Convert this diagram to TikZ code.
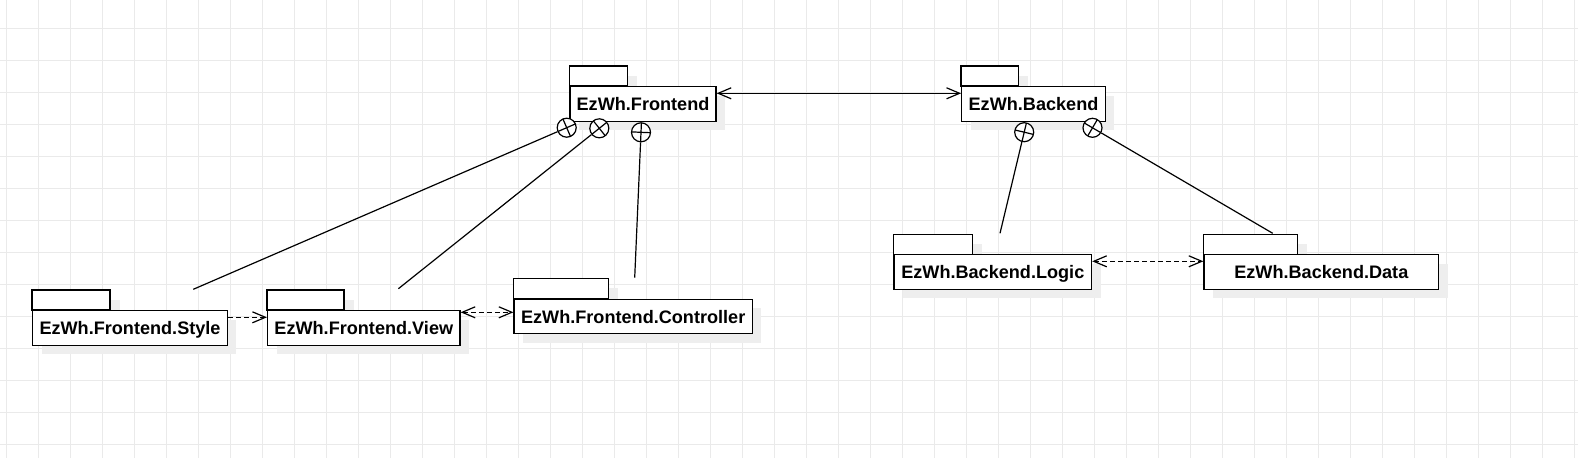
\documentclass[tikz,border=0pt]{standalone}
\usepackage{fontspec}
\setmainfont{Liberation Sans}
\usetikzlibrary{arrows.meta,calc}
\definecolor{gridc}{HTML}{EAEAEA}
\definecolor{shadowc}{HTML}{EEEEEE}
\tikzset{
  pkgline/.style={draw=black, line width=1.3pt, fill=white},
  pkgbody/.style={pkgline, inner sep=0pt, text height=13pt, text depth=0pt,
     font=\fontsize{18.1}{20}\selectfont\bfseries},
  pkgshadow/.style={fill=shadowc},
  containc/.style={circle, draw=black, fill=white, line width=1.2pt, minimum size=19pt, inner sep=0pt},
  conn/.style={draw=black, line width=1.2pt},
  openhead/.style={line width=1.2pt, arrows={Straight Barb[length=13pt,width=11pt]-Straight Barb[length=13pt,width=11pt]}},
  dashline/.style={dash pattern=on 5pt off 3pt},
}
\newcommand{\umlpkg}[6]{%
  \fill[pkgshadow] ({#2-#4/2+9},{#3-#5/2-20+9}) rectangle ++({0.4*#4},20);
  \fill[pkgshadow] ({#2-#4/2+9},{#3-#5/2+9}) rectangle ++(#4,#5);
  \node[pkgbody, minimum width=#4pt, minimum height=#5pt] (#1) at (#2,#3) {#6};
  \draw[pkgline] (#1.north west) rectangle ++({0.4*#4},-20);
}
\newcommand{\contain}[5]{%
  \coordinate (#1t) at (#4,#5);
  \node[containc] (#1) at (#2,#3) {};
  \draw[conn] (#1) -- (#1t);
  \draw[conn] ($(#1.center)!9.5pt!(#1t)$) -- ($(#1.center)!-9.5pt!(#1t)$);
  \draw[conn] ($(#1.center)!9.5pt!90:(#1t)$) -- ($(#1.center)!9.5pt!-90:(#1t)$);
}
\begin{document}
\begin{tikzpicture}[x=1pt,y=-1pt]
  \useasboundingbox (0,0) rectangle (1578,458);
  \fill[white] (0,0) rectangle (1578,458);
  % grid
  \foreach \i in {0,...,49} {\draw[gridc, line width=1pt] ({6.3+32*\i},0) -- ({6.3+32*\i},458);}
  \foreach \j in {0,...,13} {\draw[gridc, line width=1pt] (0,{28.3+32*\j}) -- (1578,{28.3+32*\j});}
  % packages
  \umlpkg{fe}{643}{103.85}{146}{34.6}{EzWh.Frontend}
  \umlpkg{be}{1033.5}{103.85}{143.5}{34.6}{EzWh.Backend}
  \umlpkg{st}{130}{328}{194.6}{34.6}{EzWh.Frontend.Style}
  \umlpkg{vw}{363.8}{328}{192.4}{34.6}{EzWh.Frontend.View}
  \umlpkg{ct}{633.2}{316.5}{238.3}{34.6}{EzWh.Frontend.Controller}
  \umlpkg{lg}{992.8}{272.1}{197.5}{34.6}{EzWh.Backend.Logic}
  \umlpkg{dt}{1321.3}{272.1}{234.6}{34.6}{EzWh.Backend.Data}
  % containment connectors
  \contain{c1}{566.7}{127.7}{193.3}{289.3}
  \contain{c2}{599.3}{128.3}{398.4}{288.7}
  \contain{c3}{641}{132.3}{634.7}{277.7}
  \contain{c4}{1024.2}{132.2}{1000}{233.3}
  \contain{c5}{1092.5}{127.8}{1272.7}{233.3}
  % dependencies / associations
  \draw[openhead] (fe.east |- 0,93.3) -- (be.west |- 0,93.3);
  \draw[line width=1.2pt, dashline, -{Straight Barb[length=13pt,width=11pt]}] (st.east |- 0,317.3) -- (vw.west |- 0,317.3);
  \draw[openhead, dashline] (vw.east |- 0,312.3) -- (ct.west |- 0,312.3);
  \draw[openhead, dashline] (lg.east |- 0,261.3) -- (dt.west |- 0,261.3);
\end{tikzpicture}
\end{document}
